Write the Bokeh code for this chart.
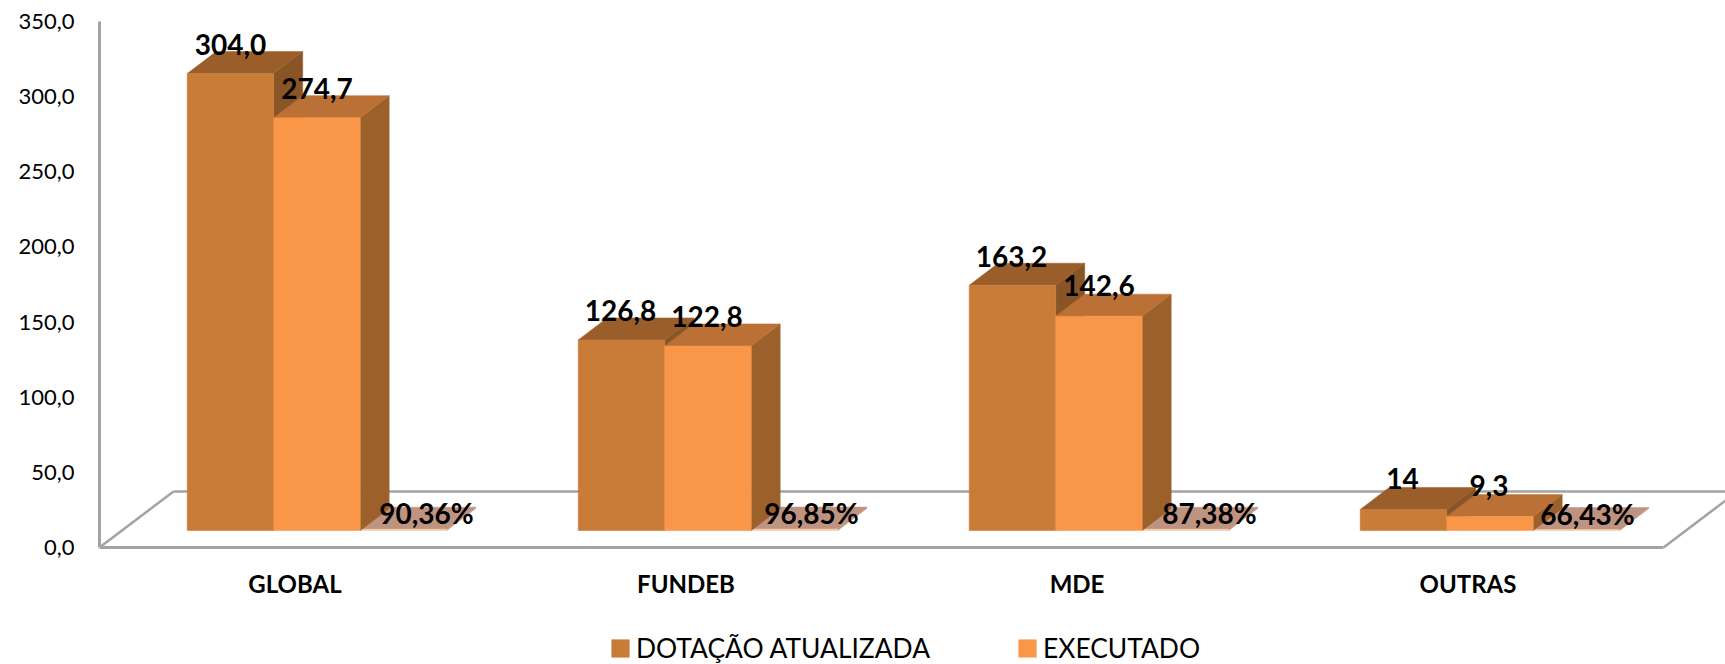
from bokeh.plotting import figure, ColumnDataSource
from bokeh.models import Range1d, FixedTicker, Legend, LegendItem
from bokeh.core.properties import value
from bokeh.embed import file_html
from bokeh.resources import INLINE

# ---- data ----
categories = ["GLOBAL", "FUNDEB", "MDE", "OUTRAS"]
dotacao = [304.0, 126.8, 163.2, 14.0]
executado = [274.7, 122.8, 142.6, 9.3]
percentual = [0.9036, 0.9685, 0.8738, 0.6643]
dotacao_labels = ["304,0", "126,8", "163,2", "14"]
executado_labels = ["274,7", "122,8", "142,6", "9,3"]
percentual_labels = ["90,36%", "96,85%", "87,38%", "66,43%"]
y_ticks = [0, 50, 100, 150, 200, 250, 300, 350]
y_tick_labels = ["0,0", "50,0", "100,0", "150,0", "200,0", "250,0", "300,0", "350,0"]
series_names = ["DOTAÇÃO ATUALIZADA", "EXECUTADO"]

# ---- layout constants (px in the reference) ----
PX_X = 391.0      # px per category
PX_Y = 1.503      # px per value unit
FRAME_W, FRAME_H = 1626, 664
ABOVE, BELOW = 547, 117
BORDER_L = 99
GROUP_START = 87.7 / PX_X - 0.5
BAR_W = 86.5 / PX_X
DEPTH_X = 29 / PX_X
DEPTH_Y = 22 / PX_Y
BASE = 17 / PX_Y
FLOOR_X = 74 / PX_X
FLOOR_Y = 56 / PX_Y
dx_dot = [0, -1, -1, -1]
dx_exe = [0, -1, 0, -1]
dx_pct = [23, 17, 24, 11]
dy_dot = [-29, -29, -29, -31]
dy_exe = [-29, -29, -31, -31]
AXIS = "#a3a3a3"
FONT = "Lato"

p = figure(width=BORDER_L + FRAME_W, height=FRAME_H, output_backend="svg",
           toolbar_location=None, x_range=Range1d(-0.5, -0.5 + FRAME_W / PX_X),
           y_range=Range1d(-BELOW / PX_Y, ABOVE / PX_Y), min_border_left=BORDER_L, min_border_right=0,
           min_border_top=0, min_border_bottom=0, outline_line_color=None)
p.grid.visible = False

ya = p.yaxis[0]
ya.ticker = FixedTicker(ticks=y_ticks)
ya.major_label_overrides = {t: s for t, s in zip(y_ticks, y_tick_labels)}
ya.bounds = (0, 350)
ya.major_tick_line_color = None
ya.minor_tick_line_color = None
ya.axis_line_color = AXIS
ya.axis_line_width = 3
ya.major_label_text_font = FONT
ya.major_label_text_font_size = "22px"
ya.major_label_text_color = "#000000"
ya.major_label_standoff = 19

xa = p.xaxis[0]
xa.fixed_location = 0
xa.ticker = FixedTicker(ticks=list(range(len(categories))))
xa.major_label_overrides = {i: c for i, c in enumerate(categories)}
xa.bounds = (-0.5, len(categories) - 0.5)
xa.major_tick_line_color = None
xa.minor_tick_line_color = None
xa.axis_line_color = AXIS
xa.axis_line_width = 3
xa.major_label_text_font = FONT
xa.major_label_text_font_style = "bold"
xa.major_label_text_font_size = "24px"
xa.major_label_text_color = "#000000"
xa.major_label_standoff = 15

# floor
n = len(categories)
p.line([-0.5, -0.5 + FLOOR_X], [0, FLOOR_Y], line_color=AXIS, line_width=2.5)
p.line([-0.5 + FLOOR_X, -0.5 + FRAME_W / PX_X], [FLOOR_Y, FLOOR_Y], line_color=AXIS, line_width=2.5)
p.line([n - 0.5, n - 0.5 + FLOOR_X], [0, FLOOR_Y], line_color=AXIS, line_width=2.5)


def block(values, slot, front, top, side, edge=None):
    left = [i + GROUP_START + slot * BAR_W for i in range(n)]
    right = [l + BAR_W for l in left]
    tops = [BASE + v for v in values]
    side_x = [[r, r + DEPTH_X, r + DEPTH_X, r] for r in right]
    side_y = [[BASE, BASE + DEPTH_Y, t + DEPTH_Y, t] for t in tops]
    top_x = [[l, l + DEPTH_X, r + DEPTH_X, r] for l, r in zip(left, right)]
    top_y = [[t, t + DEPTH_Y, t + DEPTH_Y, t] for t in tops]
    p.patches(side_x, side_y, fill_color=side, line_color=side, line_width=0.5)
    p.patches(top_x, top_y, fill_color=top, line_color=top, line_width=0.5)
    return p.quad(left=left, right=right, bottom=BASE, top=tops, fill_color=front,
                  line_color=edge or front, line_width=0.5), left


r3, left3 = block(percentual, 2, "#f4c9a8", "#be9480", "#be9480")
r1, left1 = block(dotacao, 0, "#c97b38", "#9a5e2b", "#8a5526")
r2, left2 = block(executado, 1, "#f99648", "#bb7135", "#9c602b")


def labels(values, left, texts, dx, lift):
    src = ColumnDataSource(dict(x=[l + BAR_W / 2 for l in left], y=[BASE + v for v in values],
                                t=texts, dx=dx, dy=lift))
    p.text("x", "y", text="t", source=src, x_offset="dx", y_offset="dy", text_align="center",
           text_baseline="alphabetic", text_color="#000000", text_font=value(FONT),
           text_font_style="bold", text_font_size="28px")


labels(dotacao, left1, dotacao_labels, dx_dot, dy_dot)
labels(executado, left2, executado_labels, dx_exe, dy_exe)
labels(percentual, left3, percentual_labels, dx_pct, [-16] * n)

legend = Legend(items=[LegendItem(label=series_names[0], renderers=[r1]),
                       LegendItem(label=series_names[1], renderers=[r2])],
                location=(510, 0), orientation="horizontal", padding=0, margin=0, spacing=86,
                border_line_color=None, background_fill_color=None,
                glyph_width=22, glyph_height=22, label_standoff=5,
                label_text_font=FONT, label_text_font_size="26.4px", label_text_color="#000000")
p.add_layout(legend, "center")

open("out.html", "w").write(file_html(p, INLINE))
